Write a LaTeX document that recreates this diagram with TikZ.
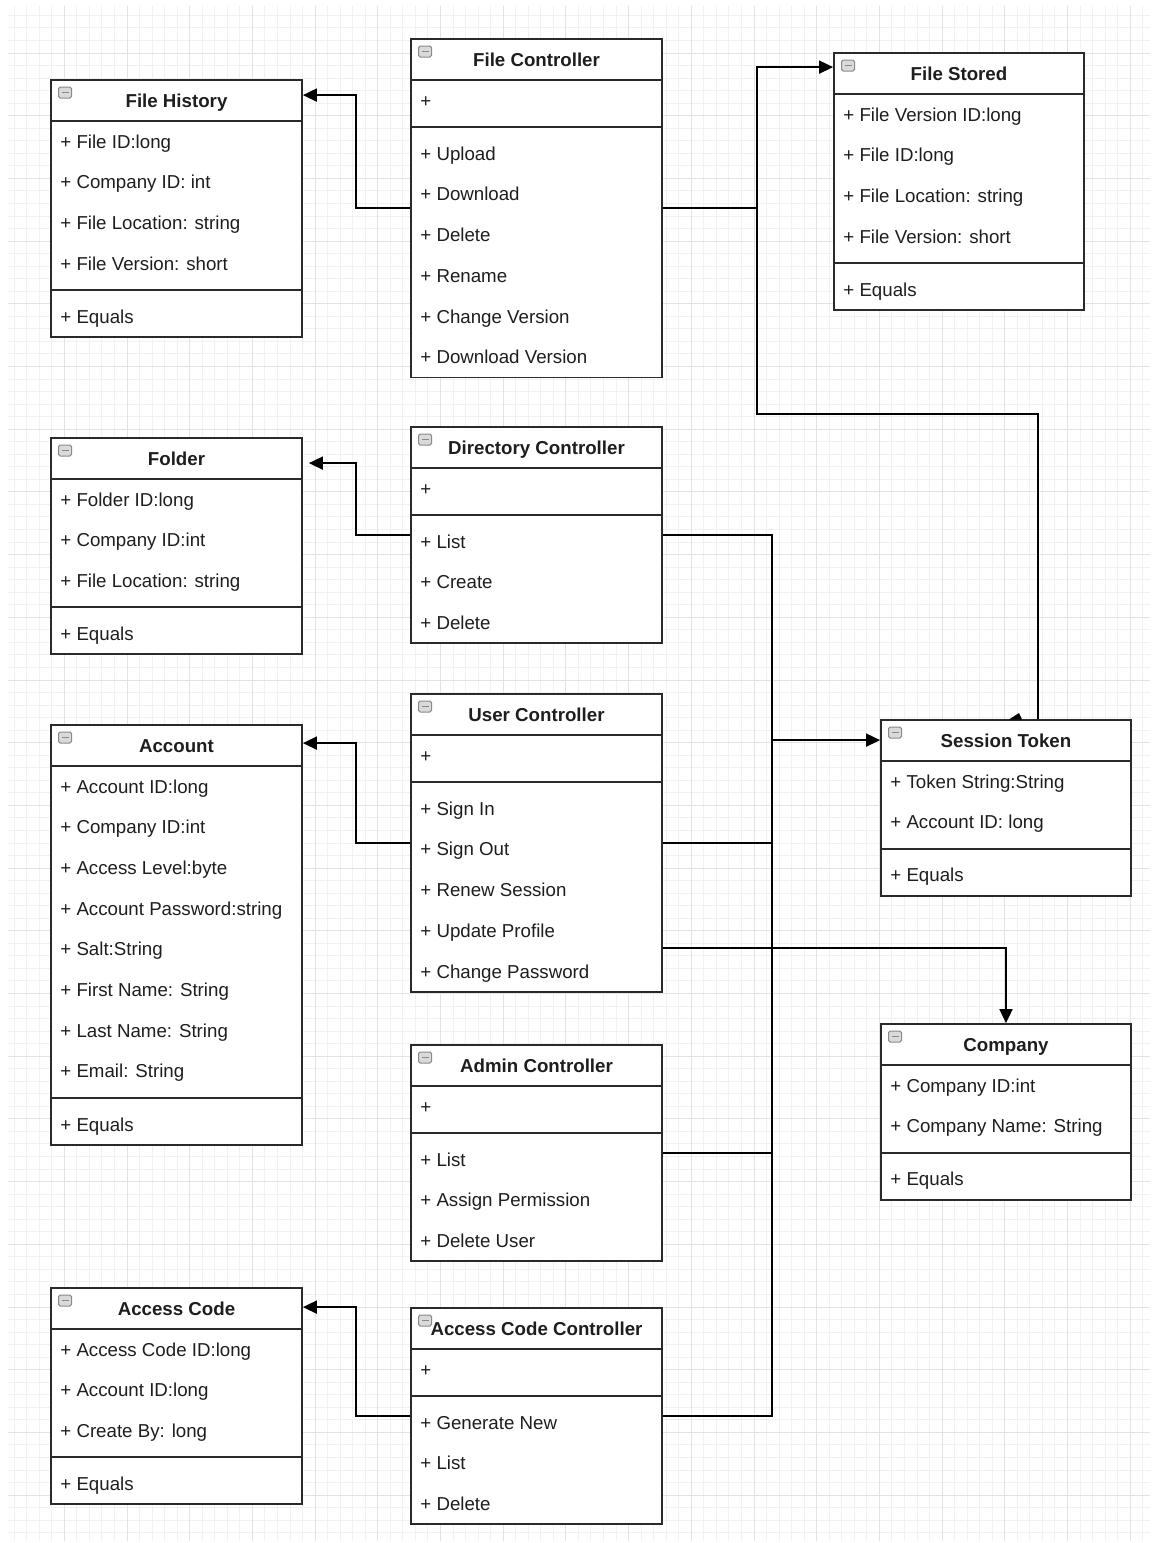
\documentclass[tikz,border=0pt]{standalone}
\usepackage{fontspec}
\setmainfont{Liberation Sans}
\usetikzlibrary{arrows.meta,fit,calc}
\definecolor{gridminor}{HTML}{F1F1F1}
\definecolor{gridmajor}{HTML}{E3E3E3}
\definecolor{inkc}{HTML}{1E1E1E}
\definecolor{framec}{HTML}{2A2A2A}
\definecolor{iconfill}{HTML}{DADADA}
\definecolor{iconedge}{HTML}{8A8A8A}
\tikzset{
  classframe/.style={draw=framec, fill=white, line width=0.9pt, inner sep=0pt},
  classline/.style={draw=framec, line width=0.9pt},
  iconbox/.style={draw=iconedge, fill=iconfill, line width=0.5pt, rounded corners=0.8pt,
    minimum width=6.5pt, minimum height=5.5pt, inner sep=0pt},
  titletext/.style={anchor=base, inner sep=0pt, text=inkc, font=\fontsize{9.35}{11}\selectfont\bfseries},
  rowtext/.style={anchor=base west, inner sep=0pt, text=inkc, font=\fontsize{9.35}{11}\selectfont},
  wire/.style={draw=black, line width=0.9pt},
  conn/.style={draw=black, line width=0.9pt, -{Triangle[length=7pt,width=6.5pt]}},
}
% #1 name, #2 x, #3 top y, #4 width, #5 title, #6 n attrs, #7 n methods, #8 attrs, #9 methods
\newcommand\umlbox[9]{%
  \pgfmathsetmacro\ubHB{#3+41}%
  \pgfmathsetmacro\ubSEP{\ubHB+40.7*#6}%
  \pgfmathsetmacro\ubSL{\ubSEP+6.25}%
  \pgfmathsetmacro\ubMS{\ubSEP+12.5}%
  \pgfmathsetmacro\ubBOT{\ubMS+40.7*#7}%
  \pgfmathsetmacro\ubR{#2+#4}%
  \pgfmathsetmacro\ubC{#2+#4/2}%
  \coordinate (#1-nw) at (#2,#3);
  \coordinate (#1-se) at (\ubR,\ubBOT);
  \node[classframe, fit=(#1-nw)(#1-se)] (#1) {};
  \draw[classline] (#2,\ubHB) -- (\ubR,\ubHB);
  \draw[classline] (#2,\ubSL) -- (\ubR,\ubSL);
  \node[iconbox] (#1-icon) at (#2+14,#3+12.5) {};
  \draw[draw=iconedge, line width=0.6pt] (#2+10.5,#3+12.5) -- (#2+17.5,#3+12.5);
  \node[titletext] (#1-title) at (\ubC,#3+27.7) {#5};
  \foreach \t [count=\k] in {#8} {
    \node[rowtext] (#1-a\k) at (#2+9,\ubHB+40.7*\k-40.7+27) {\t};
  }
  \foreach \t [count=\k] in {#9} {
    \node[rowtext] (#1-m\k) at (#2+9,\ubMS+40.7*\k-40.7+27) {\t};
  }
}
\begin{document}
\begin{tikzpicture}[x=0.5pt,y=-0.5pt]
\useasboundingbox (0,0) rectangle (1154,1543);
\fill[white] (0,0) rectangle (1154,1543);
% grid
\begin{scope}
  \clip (8,6) rectangle (1150,1540);
  \foreach \i in {0,...,92} {
    \draw[gridminor, line width=0.5pt] (1.6+12.54*\i,0) -- (1.6+12.54*\i,1543);
  }
  \foreach \j in {0,...,124} {
    \draw[gridminor, line width=0.5pt] (0,-9.7+12.54*\j) -- (1154,-9.7+12.54*\j);
  }
  \foreach \i in {0,...,18} {
    \draw[gridmajor, line width=0.5pt] (1.6+62.7*\i,0) -- (1.6+62.7*\i,1543);
  }
  \foreach \j in {0,...,25} {
    \draw[gridmajor, line width=0.5pt] (0,-9.7+62.7*\j) -- (1154,-9.7+62.7*\j);
  }
\end{scope}

% classes
\umlbox{fh}{51}{80}{251}{File History}{4}{1}{+ File ID:long,+ Company ID: int,+ File Location: string,+ File Version: short}{+ Equals}
\umlbox{fc}{411}{39}{251}{File Controller}{1}{6}{+}{+ Upload,+ Download,+ Delete,+ Rename,+ Change Version,+ Download Version}
\umlbox{fs}{834}{53}{250}{File Stored}{4}{1}{+ File Version ID:long,+ File ID:long,+ File Location: string,+ File Version: short}{+ Equals}
\umlbox{fo}{51}{438}{251}{Folder}{3}{1}{+ Folder ID:long,+ Company ID:int,+ File Location: string}{+ Equals}
\umlbox{dc}{411}{427}{251}{Directory Controller}{1}{3}{+}{+ List,+ Create,+ Delete}
\umlbox{acct}{51}{725}{251}{Account}{8}{1}{+ Account ID:long,+ Company ID:int,+ Access Level:byte,+ Account Password:string,+ Salt:String,+ First Name: String,+ Last Name: String,+ Email: String}{+ Equals}
\umlbox{uc}{411}{694}{251}{User Controller}{1}{5}{+}{+ Sign In,+ Sign Out,+ Renew Session,+ Update Profile,+ Change Password}
\umlbox{st}{881}{720}{250}{Session Token}{2}{1}{+ Token String:String,+ Account ID: long}{+ Equals}
\umlbox{co}{881}{1024}{250}{Company}{2}{1}{+ Company ID:int,+ Company Name: String}{+ Equals}
\umlbox{adm}{411}{1045}{251}{Admin Controller}{1}{3}{+}{+ List,+ Assign Permission,+ Delete User}
\umlbox{acode}{51}{1288}{251}{Access Code}{3}{1}{+ Access Code ID:long,+ Account ID:long,+ Create By: long}{+ Equals}
\umlbox{acc}{411}{1308}{251}{Access Code Controller}{1}{3}{+}{+ Generate New,+ List,+ Delete}

% connectors
\draw[conn] (fc.west) -- ++(-54,0) |- ([yshift=-8pt]fh.north east);
\coordinate (fcj) at ($(fc.east)+(94,0)$);
\draw[conn] (fc.east) -- (fcj) |- ([yshift=-7.5pt]fs.north west);
\draw[wire] (fcj) -- ++(0,206) -| ([xshift=16pt]st.north);
\fill[black] (1009,719.5) -- (1019,713) -- (1022,719.5) -- cycle;

\draw[conn] (dc.west) -- ++(-54,0) |- ([yshift=-13pt,xshift=3pt]fo.north east);
\draw[conn] (uc.west) -- ++(-54,0) |- ([yshift=-9.5pt]acct.north east);
\draw[conn] (acc.west) -- ++(-54,0) |- ([yshift=-10pt]acode.north east);

\coordinate (bt) at ($(dc.east)+(109,0)$);
\coordinate (bb) at (bt |- acc.east);
\draw[wire] (dc.east) -- (bt) -- (bb) -- (acc.east);
\draw[wire] (uc.east) -- (uc.east -| bt);
\draw[wire] (adm.east) -- (adm.east -| bt);
\coordinate (stin) at ([yshift=-10.5pt]st.north west);
\draw[conn] (stin -| bt) -- (stin);

\draw[conn] ([yshift=-52.5pt]uc.east) -| (co.north);
\end{tikzpicture}
\end{document}
